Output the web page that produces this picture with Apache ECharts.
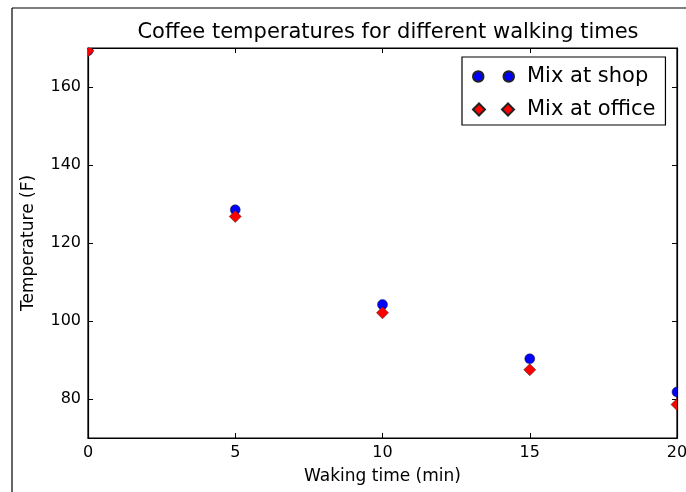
<!DOCTYPE html>
<html>
<head>
<meta charset="utf-8">
<script src="https://cdn.jsdelivr.net/npm/echarts@6/dist/echarts.min.js"></script>
<style>
html,body{margin:0;padding:0;background:#fff;}
#c{width:686px;height:492px;}
</style>
</head>
<body>
<div id="c"></div>
<script>
const walkTimes = [0, 5, 10, 15, 20];
const mixAtShop = [169.3, 128.5, 104.2, 90.3, 81.8];
const mixAtOffice = [169.3, 126.8, 102.1, 87.5, 78.6];
const xTicks = [0, 5, 10, 15, 20];
const yTicks = [80, 100, 120, 140, 160];
const seriesNames = ['Mix at shop', 'Mix at office'];

const FONT = 'DejaVu Sans';
const chart = echarts.init(document.getElementById('c'), null, {renderer: 'canvas'});

const pairs = vals => walkTimes.map((t, i) => [t, vals[i]]);
const circleIcon = 'path://M1,6a5,5 0 1,0 10,0a5,5 0 1,0 -10,0Z M30,6a5,5 0 1,0 10,0a5,5 0 1,0 -10,0Z';
const diamondIcon = 'path://M0,6L6,0L12,6L6,12Z M29,6L35,0L41,6L35,12Z';

const tickStyle = {show: true, inside: true, length: 5, lineStyle: {color: '#000', width: 1}};
const axisLine = {show: true, onZero: false, lineStyle: {color: '#000', width: 1.2}};

const BLUE = '#0000ff', RED = '#ff0000', EDGE = '#222';

function renderCircle(params, api) {
  const p = api.coord([api.value(0), api.value(1)]);
  return {type: 'circle', shape: {cx: p[0], cy: p[1], r: 5},
          style: {fill: BLUE, stroke: EDGE, lineWidth: 0.5}};
}
function renderDiamond(params, api) {
  const p = api.coord([api.value(0), api.value(1)]);
  const h = 6;
  return {type: 'polygon',
          shape: {points: [[p[0], p[1] - h], [p[0] + h, p[1]], [p[0], p[1] + h], [p[0] - h, p[1]]]},
          style: {fill: RED, stroke: EDGE, lineWidth: 0.5}};
}

chart.setOption({
  animation: false,
  backgroundColor: '#fff',
  title: {
    text: 'Coffee temperatures for different walking times',
    left: 383, top: 17, textAlign: 'center',
    textStyle: {fontFamily: FONT, fontSize: 21, fontWeight: 'normal', color: '#000'}
  },
  legend: {
    orient: 'vertical',
    left: 462, top: 57,
    padding: [9, 10, 5, 10],
    itemGap: 12,
    itemWidth: 41, itemHeight: 12,
    symbolKeepAspect: true,
    backgroundColor: '#fff',
    borderColor: '#000', borderWidth: 1.2, borderRadius: 0,
    textStyle: {fontFamily: FONT, fontSize: 21, color: '#000', padding: [0, 0, 0, 8]},
    data: [
      {name: seriesNames[0], icon: circleIcon},
      {name: seriesNames[1], icon: diamondIcon}
    ]
  },
  grid: {left: 88, right: 9, top: 48, bottom: 54, containLabel: false, outerBoundsMode: 'none',
         show: true, borderColor: '#000', borderWidth: 1.2},
  xAxis: [{
    type: 'value', min: 0, max: 20, position: 'bottom',
    name: 'Waking time (min)', nameLocation: 'middle', nameGap: 30,
    nameTextStyle: {fontFamily: FONT, fontSize: 17, color: '#000'},
    axisLine: axisLine,
    axisTick: Object.assign({}, tickStyle, {customValues: xTicks}),
    axisLabel: {fontFamily: FONT, fontSize: 16, color: '#000', margin: 7, customValues: xTicks},
    splitLine: {show: false}
  }, {
    type: 'value', min: 0, max: 20, position: 'top',
    axisLine: axisLine,
    axisTick: Object.assign({}, tickStyle, {customValues: xTicks}),
    axisLabel: {show: false, customValues: xTicks}, splitLine: {show: false}
  }],
  yAxis: [{
    type: 'value', min: 70, max: 170, position: 'left',
    name: 'Temperature (F)', nameLocation: 'middle', nameGap: 51, nameRotate: 90,
    nameTextStyle: {fontFamily: FONT, fontSize: 17, color: '#000'},
    axisLine: axisLine,
    axisTick: Object.assign({}, tickStyle, {customValues: yTicks}),
    axisLabel: {fontFamily: FONT, fontSize: 16, color: '#000', margin: 7, customValues: yTicks},
    splitLine: {show: false}
  }, {
    type: 'value', min: 70, max: 170, position: 'right',
    axisLine: axisLine,
    axisTick: Object.assign({}, tickStyle, {customValues: yTicks}),
    axisLabel: {show: false, customValues: yTicks},
    splitLine: {show: false}
  }],
  series: [{
    name: seriesNames[0], type: 'custom', clip: true,
    xAxisIndex: 0, yAxisIndex: 0,
    encode: {x: 0, y: 1},
    itemStyle: {color: BLUE, borderColor: EDGE, borderWidth: 0.5},
    renderItem: renderCircle,
    data: pairs(mixAtShop)
  }, {
    name: seriesNames[1], type: 'custom', clip: true,
    xAxisIndex: 0, yAxisIndex: 0,
    encode: {x: 0, y: 1},
    itemStyle: {color: RED, borderColor: EDGE, borderWidth: 0.5},
    renderItem: renderDiamond,
    data: pairs(mixAtOffice)
  }],
  graphic: [
    {type: 'line', shape: {x1: 12, y1: 8, x2: 686, y2: 8}, style: {stroke: '#000', lineWidth: 1.2}, silent: true},
    {type: 'line', shape: {x1: 12, y1: 8, x2: 12, y2: 492}, style: {stroke: '#000', lineWidth: 1.2}, silent: true}
  ]
});
</script>
</body>
</html>
